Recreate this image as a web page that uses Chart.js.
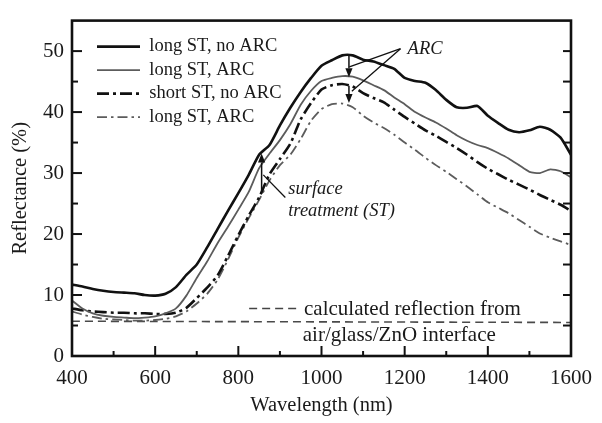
<!DOCTYPE html>
<html>
<head>
<meta charset="utf-8">
<script src="https://cdn.jsdelivr.net/npm/chart.js@4.4.1/dist/chart.umd.min.js"></script>
<style>
html,body{margin:0;padding:0;background:#ffffff;}
#wrap{width:602px;height:423px;}
</style>
</head>
<body>
<div id="wrap"><canvas id="c" width="602" height="423"></canvas></div>
<script>
// ---------------- data ----------------
const WAVELENGTH = [400,425,450,475,500,525,550,575,600,625,650,675,700,725,750,775,800,825,850,875,900,925,950,975,1000,1025,1050,1075,1100,1125,1150,1175,1200,1225,1250,1275,1300,1325,1350,1375,1400,1425,1450,1475,1500,1525,1550,1575,1600];

const LONG_ST_NO_ARC = [11.7,11.4,11.0,10.7,10.5,10.4,10.3,10.0,9.9,10.2,11.3,13.3,15.0,17.8,20.8,23.8,26.7,29.7,33.0,34.6,37.8,40.7,43.3,45.6,47.6,48.5,49.3,49.3,48.6,48.3,47.7,47.1,45.6,45.1,44.8,43.6,42.0,40.8,40.7,41.0,39.4,38.2,37.1,36.7,37.0,37.6,37.1,35.8,33.0];

const LONG_ST_ARC = [9.1,7.8,7.0,6.6,6.4,6.3,6.2,6.3,6.5,7.0,7.8,9.9,12.8,15.5,18.5,21.2,24.0,26.9,30.8,33.2,35.4,38.0,41.2,43.5,45.1,45.6,45.9,45.8,45.2,44.4,43.6,42.4,41.3,40.0,39.1,38.3,37.3,36.2,35.3,34.6,34.1,33.3,32.4,31.3,30.2,30.0,30.6,30.3,29.3];

const SHORT_ST_NO_ARC = [7.8,7.5,7.3,7.2,7.1,7.1,7.0,7.0,6.9,6.9,7.1,7.9,9.5,11.2,13.2,16.4,19.8,23.0,26.0,29.8,32.3,34.8,38.8,41.5,43.7,44.4,44.6,44.2,43.1,42.3,41.6,40.4,39.2,38.1,37.0,36.1,35.1,34.1,33.0,31.8,30.7,29.8,28.9,28.1,27.3,26.4,25.6,24.8,23.8];

const LONG_ST_ARC_B = [7.3,6.8,6.4,6.1,6.0,5.9,5.8,5.8,5.9,6.1,6.5,7.3,8.6,10.2,12.5,15.8,19.4,22.6,25.6,28.8,31.3,33.0,35.6,38.6,40.5,41.3,41.4,40.8,39.4,38.3,37.4,36.3,35.0,33.8,32.5,31.3,30.2,29.0,27.8,26.5,25.2,24.3,23.4,22.3,21.2,20.1,19.4,18.8,18.2];

const CALC_WAVELENGTH = [400, 1600];
const CALC_REFLECTION = [5.7, 5.5];

const SERIES_LABELS = ['long ST, no ARC', 'long ST, ARC', 'short ST, no ARC', 'long ST, ARC'];

const X_TICKS = [400, 600, 800, 1000, 1200, 1400, 1600];
const X_MINOR = [500, 700, 900, 1100, 1300, 1500];
const Y_TICKS = [0, 10, 20, 30, 40, 50];
const Y_MINOR = [5, 15, 25, 35, 45];
const RIGHT_TICKS = [5, 10, 15, 20, 25, 30, 35, 40, 45, 50];

// annotation anchors, in data units (wavelength, reflectance)
const ARC_LABEL = {text: 'ARC', at: [1207, 50.3]};
const ARC_ARROWS = [[[1066, 49.4], [1066, 45.7]], [[1066, 44.3], [1066, 41.5]]];
const ARC_LEADERS = [[[1190, 50.4], [1067, 47.4]], [[1190, 50.4], [1073, 43.4]]];
const ST_LABEL = {lines: ['surface', 'treatment (ST)'], at: [[920, 27.3], [920, 23.8]]};
const ST_ARROW = [[856, 26.6], [856, 33.2]];
const ST_LEADER = [[913, 26.0], [860, 29.7]];
const CALC_LABEL = {lines: ['calculated reflection from', 'air/glass/ZnO interface'], at: [[958, 7.7], [955, 3.3]]};
const CALC_KEY = [[826, 7.8], [948, 7.8]];

// ---------------- chart ----------------
const SERIF = '"Liberation Serif", "Times New Roman", serif';
Chart.defaults.font.family = SERIF;
Chart.defaults.color = '#1a1a1a';

const pts = (xs, ys) => xs.map((x, i) => ({x: x, y: ys[i]}));

const decor = {
  id: 'decor',
  beforeDraw(chart) {
    const ca = chart.chartArea;
    const lg = chart.legend;
    if (lg) {
      const w = lg.width;
      lg.left = ca.left + 20;
      lg.top = ca.top + 11.75;
      lg.right = lg.left + w;
      lg.bottom = ca.bottom;
    }
  },
  afterDatasetsDraw(chart) {
    const ctx = chart.ctx;
    const xs = chart.scales.x, ys = chart.scales.y;
    const ca = chart.chartArea;
    const P = (p) => [xs.getPixelForValue(p[0]), ys.getPixelForValue(p[1])];
    ctx.save();
    ctx.strokeStyle = '#111';
    ctx.fillStyle = '#111';
    // frame
    ctx.lineWidth = 2.6;
    ctx.strokeRect(ca.left, ca.top, ca.right - ca.left, ca.bottom - ca.top);
    // inward ticks
    ctx.lineWidth = 2;
    const vtick = (v, len) => { const x = xs.getPixelForValue(v); ctx.beginPath(); ctx.moveTo(x, ca.bottom); ctx.lineTo(x, ca.bottom - len); ctx.stroke(); };
    X_TICKS.forEach(v => vtick(v, 10));
    X_MINOR.forEach(v => vtick(v, 5));
    const htick = (v, len, side) => { const y = ys.getPixelForValue(v); ctx.beginPath();
      if (side === 'l') { ctx.moveTo(ca.left, y); ctx.lineTo(ca.left + len, y); }
      else { ctx.moveTo(ca.right, y); ctx.lineTo(ca.right - len, y); }
      ctx.stroke(); };
    Y_TICKS.forEach(v => htick(v, 10, 'l'));
    Y_MINOR.forEach(v => htick(v, 6, 'l'));
    RIGHT_TICKS.forEach(v => htick(v, 8, 'r'));

    // arrows
    const line = (a, b, w) => { const p = P(a), q = P(b); ctx.lineWidth = w; ctx.beginPath(); ctx.moveTo(p[0], p[1]); ctx.lineTo(q[0], q[1]); ctx.stroke(); };
    const arrow = (a, b) => {
      const p = P(a), q = P(b);
      const ang = Math.atan2(q[1] - p[1], q[0] - p[0]);
      const L = 9, Wd = 3.6;
      const bx = q[0] - L * Math.cos(ang), by = q[1] - L * Math.sin(ang);
      ctx.lineWidth = 1.5;
      ctx.beginPath(); ctx.moveTo(p[0], p[1]); ctx.lineTo(bx, by); ctx.stroke();
      ctx.beginPath();
      ctx.moveTo(q[0], q[1]);
      ctx.lineTo(bx + Wd * Math.sin(ang), by - Wd * Math.cos(ang));
      ctx.lineTo(bx - Wd * Math.sin(ang), by + Wd * Math.cos(ang));
      ctx.closePath(); ctx.fill();
    };
    ARC_ARROWS.forEach(a => arrow(a[0], a[1]));
    ARC_LEADERS.forEach(a => line(a[0], a[1], 1.3));
    arrow(ST_ARROW[0], ST_ARROW[1]);
    line(ST_LEADER[0], ST_LEADER[1], 1.3);

    // key for calculated line
    ctx.strokeStyle = '#444';
    ctx.setLineDash([8, 5]);
    line(CALC_KEY[0], CALC_KEY[1], 1.5);
    ctx.setLineDash([]);

    // texts
    ctx.fillStyle = '#1a1a1a';
    ctx.textBaseline = 'middle';
    ctx.textAlign = 'left';
    ctx.font = 'italic 18.5px ' + SERIF;
    let p = P(ARC_LABEL.at); ctx.fillText(ARC_LABEL.text, p[0], p[1]);
    ST_LABEL.lines.forEach((t, i) => { const q = P(ST_LABEL.at[i]); ctx.fillText(t, q[0], q[1]); });
    ctx.font = '21px ' + SERIF;
    CALC_LABEL.lines.forEach((t, i) => { const q = P(CALC_LABEL.at[i]); ctx.fillText(t, q[0], q[1]); });
    ctx.restore();
  }
};

new Chart(document.getElementById('c'), {
  type: 'line',
  data: {
    datasets: [
      {label: SERIES_LABELS[0], data: pts(WAVELENGTH, LONG_ST_NO_ARC), borderColor: '#111111', borderWidth: 2.6},
      {label: SERIES_LABELS[1], data: pts(WAVELENGTH, LONG_ST_ARC), borderColor: '#5c5c5c', borderWidth: 1.8},
      {label: SERIES_LABELS[2], data: pts(WAVELENGTH, SHORT_ST_NO_ARC), borderColor: '#111111', borderWidth: 2.6, borderDash: [12, 4, 3, 4]},
      {label: SERIES_LABELS[3], data: pts(WAVELENGTH, LONG_ST_ARC_B), borderColor: '#5c5c5c', borderWidth: 1.8, borderDash: [10, 4, 2.5, 4]},
      {label: 'calculated', data: pts(CALC_WAVELENGTH, CALC_REFLECTION), borderColor: '#4a4a4a', borderWidth: 1.6, borderDash: [8, 5]}
    ]
  },
  options: {
    responsive: false,
    devicePixelRatio: 1,
    animation: false,
    events: [],
    elements: {point: {radius: 0}, line: {tension: 0.2, fill: false, backgroundColor: 'transparent'}},
    layout: {autoPadding: false, padding: {left: 0, right: 20, top: 7, bottom: 0}},
    scales: {
      x: {
        type: 'linear', min: 400, max: 1600,
        afterBuildTicks: s => { s.ticks = X_TICKS.map(v => ({value: v})); },
        afterFit: s => { s.height = 67; },
        ticks: {font: {size: 21}, color: '#1a1a1a', padding: 10, maxRotation: 0, autoSkip: false, callback: v => String(v)},
        grid: {display: false, drawTicks: false},
        border: {display: false},
        title: {display: true, text: 'Wavelength (nm)', font: {size: 20.5}, color: '#1a1a1a', padding: {top: 0, bottom: 5}}
      },
      y: {
        type: 'linear', min: 0, max: 55,
        afterBuildTicks: s => { s.ticks = Y_TICKS.map(v => ({value: v})); },
        afterFit: s => { s.width = 72; },
        ticks: {font: {size: 21}, color: '#1a1a1a', padding: 8, callback: v => String(v)},
        grid: {display: false, drawTicks: false},
        border: {display: false},
        title: {display: true, text: 'Reflectance (%)', font: {size: 20.5}, color: '#1a1a1a', padding: {top: 8, bottom: 0}}
      }
    },
    plugins: {
      tooltip: {enabled: false},
      legend: {
        position: 'chartArea', align: 'start',
        labels: {
          usePointStyle: true, pointStyle: 'line', pointStyleWidth: 43,
          font: {size: 18.5}, color: '#1a1a1a', padding: 5,
          filter: item => item.datasetIndex < 4,
          generateLabels: chart => {
            const items = Chart.defaults.plugins.legend.labels.generateLabels(chart);
            items.forEach(it => {
              const ds = chart.data.datasets[it.datasetIndex];
              it.lineDash = ds.borderDash || [];
              it.lineWidth = ds.borderWidth;
              it.strokeStyle = ds.borderColor;
              it.pointStyle = 'line';
            });
            return items;
          }
        }
      }
    }
  },
  plugins: [decor]
});
</script>
</body>
</html>
